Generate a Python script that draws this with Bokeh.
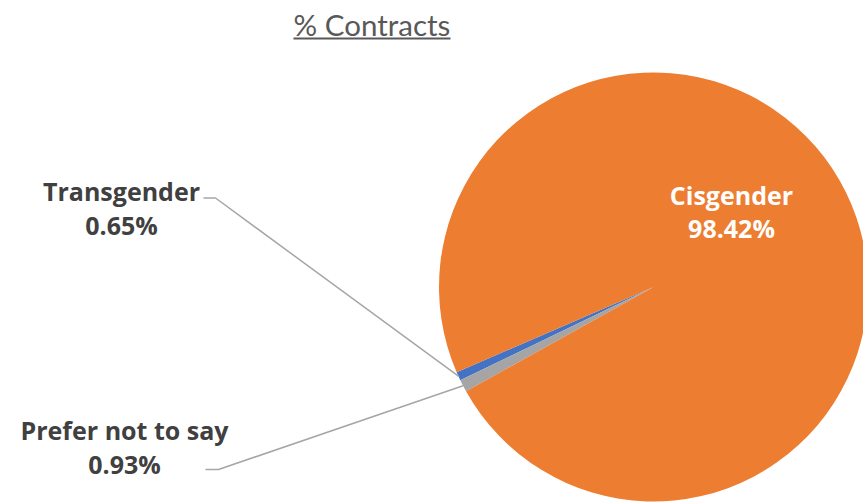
import numpy as np
from bokeh.plotting import figure
from bokeh.models import Range1d, ColumnDataSource
from bokeh.core.properties import value
from bokeh.embed import file_html
from bokeh.resources import INLINE

# ---- data ----
categories = ["Transgender", "Prefer not to say", "Cisgender"]
shares = [0.65, 0.93, 98.42]
colors = ["#4472C4", "#A5A5A5", "#ED7D31"]
title_text = "% Contracts"

# ---- geometry / style ----
W, H = 863, 504
cx, cy, R = 653, H - 286.5, 214.5
start_deg = 203.4
LABEL_FONT = value("Open Sans")
TITLE_FONT = value("Lato")
LABEL_COLOR = "#404040"
LABEL_SIZE = 25
TITLE_SIZE = 29.5

frac = np.array(shares) / np.sum(shares)
ends = np.radians(start_deg) + 2 * np.pi * np.cumsum(frac)
starts = ends - 2 * np.pi * frac
mids = (starts + ends) / 2

src = ColumnDataSource(dict(cat=categories, share=shares, start=starts, end=ends, color=colors))

p = figure(width=W, height=H, x_range=Range1d(0, W), y_range=Range1d(0, H),
           output_backend="svg", toolbar_location=None, min_border=0)
p.axis.visible = False
p.grid.visible = False
p.outline_line_color = None
p.background_fill_color = "white"

p.wedge(x=cx, y=cy, radius=R, start_angle="start", end_angle="end",
        fill_color="color", line_color=None, source=src)

def ty(y_screen, size):
    # screen baseline -> data y (compensates renderer baseline offset)
    return H - y_screen + 0.32 * size

# Title with underline
p.text(x=[371.5], y=[ty(33, TITLE_SIZE)], text=[title_text], text_font=TITLE_FONT,
       text_font_size=f"{TITLE_SIZE}px", text_color="#595959",
       text_align="center", text_baseline="alphabetic")
p.segment(x0=[293], y0=[H - 38], x1=[450], y1=[H - 38], line_color="#595959", line_width=2)

# Labels
def label(x, y1, y2, name, pct, color):
    for yy, t in ((y1, name), (y2, pct)):
        p.text(x=[x], y=[ty(yy, LABEL_SIZE)], text=[t], text_font=LABEL_FONT,
               text_font_size=f"{LABEL_SIZE}px", text_font_style="bold", text_color=color,
               text_align="center", text_baseline="alphabetic")

idx = {c: i for i, c in enumerate(categories)}
label(731, 202, 235, "Cisgender", f"{shares[idx['Cisgender']]:.2f}%", "white")
label(121, 198, 232, "Transgender", f"{shares[idx['Transgender']]:.2f}%", LABEL_COLOR)
label(124, 437, 471, "Prefer not to say", f"{shares[idx['Prefer not to say']]:.2f}%", LABEL_COLOR)

# Leader lines
leaders = {"Transgender": (203, 215, 197.5), "Prefer not to say": (205, 218, 469)}
for cat, (xa, xb, ys) in leaders.items():
    m = mids[idx[cat]]
    ex, ey = cx + R * np.cos(m), cy + R * np.sin(m)
    p.line(x=[xa, xb, ex], y=[H - ys, H - ys, ey], line_color="#A6A6A6", line_width=1.5)

open("out.html", "w").write(file_html(p, INLINE))
